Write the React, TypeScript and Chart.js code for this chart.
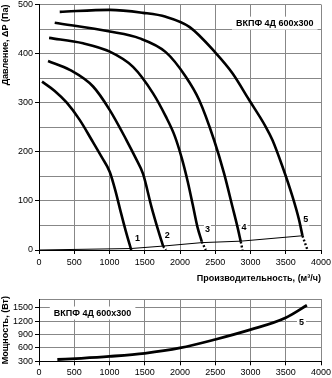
import React, { useEffect, useRef } from 'react';
import { Chart, registerables } from 'chart.js';
Chart.register(...registerables);

const FONT = '"Liberation Sans", Arial, sans-serif';

// Pressure curves (flow m³/h, pressure Pa)
const curve1X = [43, 223, 394, 577, 748, 890, 1004, 1089, 1160, 1230, 1308];
const curve1Y = [343, 324, 300, 265, 224, 189, 159, 118, 77, 39, 0];
const curve2X = [128, 436, 767, 1004, 1240, 1372, 1476, 1595, 1689, 1760];
const curve2Y = [385, 367, 333, 285, 224, 187, 155, 88, 41, 8];
const curve3X = [143, 625, 1004, 1334, 1618, 1798, 1926, 2025, 2110, 2181, 2247, 2309];
const curve3Y = [432, 421, 404, 373, 319, 272, 232, 187, 139, 92, 47, 17];
const curve4X = [223, 1004, 1429, 1798, 2082, 2270, 2483, 2625, 2744, 2815, 2862];
const curve4Y = [463, 445, 431, 403, 353, 306, 224, 156, 88, 47, 17];
const curve5X = [294, 1004, 1476, 1798, 2138, 2508, 2744, 2979, 3216, 3311, 3453, 3595, 3689, 3737];
const curve5Y = [485, 489, 483, 475, 454, 401, 360, 306, 251, 224, 170, 109, 61, 29];

// System (network) line
const systemX = [0, 1308, 1760, 2309, 2862, 3737];
const systemY = [0, 3, 8, 15, 18, 29];

// Dotted continuations to the axis
const dotStartX = [1760, 2309, 2862, 3737];
const dotStartY = [8, 17, 17, 29];
const dotEndX = [1800, 2365, 2886, 3808];
const dotEndY = [0, 0, 0, 0];

// Curve number labels
const curveLabels = ['1', '2', '3', '4', '5'];
const curveLabelX = [1397, 1819, 2389, 2908, 3784];
const curveLabelY = [25, 31, 43, 47, 63];

// Power curve (flow m³/h, power W)
const powerX = [260, 600, 1000, 1500, 2000, 2500, 3000, 3500, 3800];
const powerY = [340, 368, 410, 480, 600, 790, 1010, 1280, 1560];
const powerLabel = '5';
const powerLabelX = 3723;
const powerLabelY = 1180;

const modelName = 'ВКПФ 4Д 600x300';
const topNameX = 3344;
const topNameY = 462;
const bottomNameX = 760;
const bottomNameY = 1385;

const flowTicks = [0, 500, 1000, 1500, 2000, 2500, 3000, 3500, 4000];
const pressureTicks = [0, 50, 100, 150, 200, 250, 300, 350, 400, 450, 500];
const powerTicks = [300, 600, 900, 1200, 1500, 1700];

const xTitle = 'Производительность, (м³/ч)';
const pTitle = 'Давление, ΔP (Па)';
const wTitle = 'Мощность, (Вт)';

const pts = (xs: number[], ys: number[]) => xs.map((x, i) => ({ x, y: ys[i] }));

type Lbl = { text: string; x: number; y: number; bold: boolean; size: number; pad: number };

const labelPlugin = (labels: Lbl[]) => ({
  id: 'lbls',
  beforeDatasetsDraw(chart: any) {
    const ctx = chart.ctx;
    const xs = chart.scales.x;
    const ys = chart.scales.y;
    ctx.save();
    labels.forEach((l) => {
      ctx.font = `${l.bold ? 'bold ' : ''}${l.size}px ${FONT}`;
      const px = xs.getPixelForValue(l.x);
      const py = ys.getPixelForValue(l.y);
      const w = ctx.measureText(l.text).width;
      ctx.fillStyle = '#fff';
      ctx.fillRect(px - w / 2 - l.pad, py - l.size / 2 - 2, w + l.pad * 2, l.size + 4);
      ctx.fillStyle = '#000';
      ctx.textAlign = 'center';
      ctx.textBaseline = 'middle';
      ctx.fillText(l.text, px, py + 0.5);
    });
    ctx.restore();
  },
});

const gridColor = '#878787';
const tickFont = { family: FONT, size: 9 };
const titleFont = { family: FONT, size: 9, weight: 'bold' };
const plain = (v: any) => String(v);

function TopChart() {
  const ref = useRef<HTMLCanvasElement>(null);
  useEffect(() => {
    const curveStyle = {
      borderColor: '#000',
      borderWidth: 2.6,
      pointRadius: 0,
      fill: false,
      cubicInterpolationMode: 'monotone' as const,
    };
    const datasets: any[] = [
      { ...curveStyle, data: pts(curve1X, curve1Y) },
      { ...curveStyle, data: pts(curve2X, curve2Y) },
      { ...curveStyle, data: pts(curve3X, curve3Y) },
      { ...curveStyle, data: pts(curve4X, curve4Y) },
      { ...curveStyle, data: pts(curve5X, curve5Y) },
      { borderColor: '#000', borderWidth: 1, pointRadius: 0, fill: false, tension: 0, data: pts(systemX, systemY) },
    ];
    dotStartX.forEach((x, i) => {
      datasets.push({
        borderColor: '#000',
        borderWidth: 2.4,
        borderDash: [2, 2],
        pointRadius: 0,
        fill: false,
        data: [
          { x, y: dotStartY[i] },
          { x: dotEndX[i], y: dotEndY[i] },
        ],
      });
    });
    const labels: Lbl[] = curveLabels.map((t, i) => ({ text: t, x: curveLabelX[i], y: curveLabelY[i], bold: true, size: 9, pad: 1 }));
    labels.push({ text: modelName, x: topNameX, y: topNameY, bold: true, size: 9, pad: 4 });
    const chart = new Chart(ref.current!, {
      type: 'line',
      data: { datasets },
      plugins: [labelPlugin(labels)],
      options: {
        animation: false,
        responsive: false,
        maintainAspectRatio: false,
        layout: { padding: { left: 0, right: 11, top: 4.5, bottom: 0 } },
        plugins: { legend: { display: false }, tooltip: { enabled: false } },
        scales: {
          x: {
            type: 'linear',
            min: 0,
            max: 4000,
            afterBuildTicks: (s: any) => { s.ticks = flowTicks.map((v) => ({ value: v })); },
            ticks: { font: tickFont, color: '#000', padding: 3, maxRotation: 0, autoSkip: false, callback: plain },
            grid: { color: gridColor, lineWidth: 1, tickLength: 4, tickColor: '#000' },
            border: { color: '#000', width: 1 },
            title: { display: true, text: xTitle, align: 'end', color: '#000', font: titleFont, padding: { top: 0, bottom: 2 } },
            afterFit: (s: any) => { s.height = 36; s.paddingLeft = 0; s.paddingRight = 0; },
          },
          y: {
            type: 'linear',
            min: 0,
            max: 500,
            afterBuildTicks: (s: any) => { s.ticks = pressureTicks.map((v) => ({ value: v })); },
            ticks: { font: tickFont, color: '#000', padding: 2, autoSkip: false, callback: (v: any) => (v % 100 === 0 ? String(v) : '') },
            grid: { color: gridColor, lineWidth: 1, tickLength: 4, tickColor: (c: any) => (c.tick && c.tick.value % 100 === 0 ? '#000' : 'rgba(0,0,0,0)') },
            border: { color: '#000', width: 1 },
            title: { display: true, text: pTitle, align: 'end', color: '#000', font: titleFont, padding: { top: 0, bottom: 0 } },
            afterFit: (s: any) => { s.width = 39; s.paddingTop = 0; s.paddingBottom = 0; },
          },
        },
      } as any,
    });
    return () => chart.destroy();
  }, []);
  return <canvas ref={ref} width={332} height={286} style={{ display: 'block', position: 'absolute', left: 0, top: 0 }} />;
}

function BottomChart() {
  const ref = useRef<HTMLCanvasElement>(null);
  useEffect(() => {
    const labels: Lbl[] = [
      { text: modelName, x: bottomNameX, y: bottomNameY, bold: true, size: 9, pad: 4 },
      { text: powerLabel, x: powerLabelX, y: powerLabelY, bold: true, size: 9, pad: 2 },
    ];
    const chart = new Chart(ref.current!, {
      type: 'line',
      data: {
        datasets: [
          { borderColor: '#000', borderWidth: 2.8, pointRadius: 0, fill: false, cubicInterpolationMode: 'monotone', data: pts(powerX, powerY) },
        ],
      },
      plugins: [labelPlugin(labels)],
      options: {
        animation: false,
        responsive: false,
        maintainAspectRatio: false,
        layout: { padding: { left: 0, right: 11, top: 13, bottom: 0 } },
        plugins: { legend: { display: false }, tooltip: { enabled: false } },
        scales: {
          x: {
            type: 'linear',
            min: 0,
            max: 4000,
            afterBuildTicks: (s: any) => { s.ticks = flowTicks.map((v) => ({ value: v })); },
            ticks: { font: tickFont, color: '#000', padding: 2, maxRotation: 0, autoSkip: false, callback: plain },
            grid: { color: gridColor, lineWidth: 1, tickLength: 4, tickColor: '#000' },
            border: { color: '#000', width: 1 },
            afterFit: (s: any) => { s.height = 16.7; s.paddingLeft = 0; s.paddingRight = 0; },
          },
          y: {
            type: 'linear',
            min: 300,
            max: 1700,
            afterBuildTicks: (s: any) => { s.ticks = powerTicks.map((v) => ({ value: v })); },
            ticks: { font: tickFont, color: '#000', padding: 2, autoSkip: false, callback: (v: any) => (v === 1700 ? '' : String(v)) },
            grid: { color: gridColor, lineWidth: 1, tickLength: 4, tickColor: (c: any) => (c.tick && c.tick.value === 1700 ? 'rgba(0,0,0,0)' : '#000') },
            border: { color: '#000', width: 1 },
            title: { display: true, text: wTitle, align: 'center', color: '#000', font: titleFont, padding: { top: 0, bottom: 0 } },
            afterFit: (s: any) => { s.width = 39; s.paddingTop = 0; s.paddingBottom = 0; },
          },
        },
      } as any,
    });
    return () => chart.destroy();
  }, []);
  return <canvas ref={ref} width={332} height={92} style={{ display: 'block', position: 'absolute', left: 0, top: 286 }} />;
}

export default function App() {
  return (
    <div style={{ position: 'absolute', left: 0, top: 0, width: 332, height: 378, background: '#fff', overflow: 'hidden' }}>
      <TopChart />
      <BottomChart />
    </div>
  );
}
